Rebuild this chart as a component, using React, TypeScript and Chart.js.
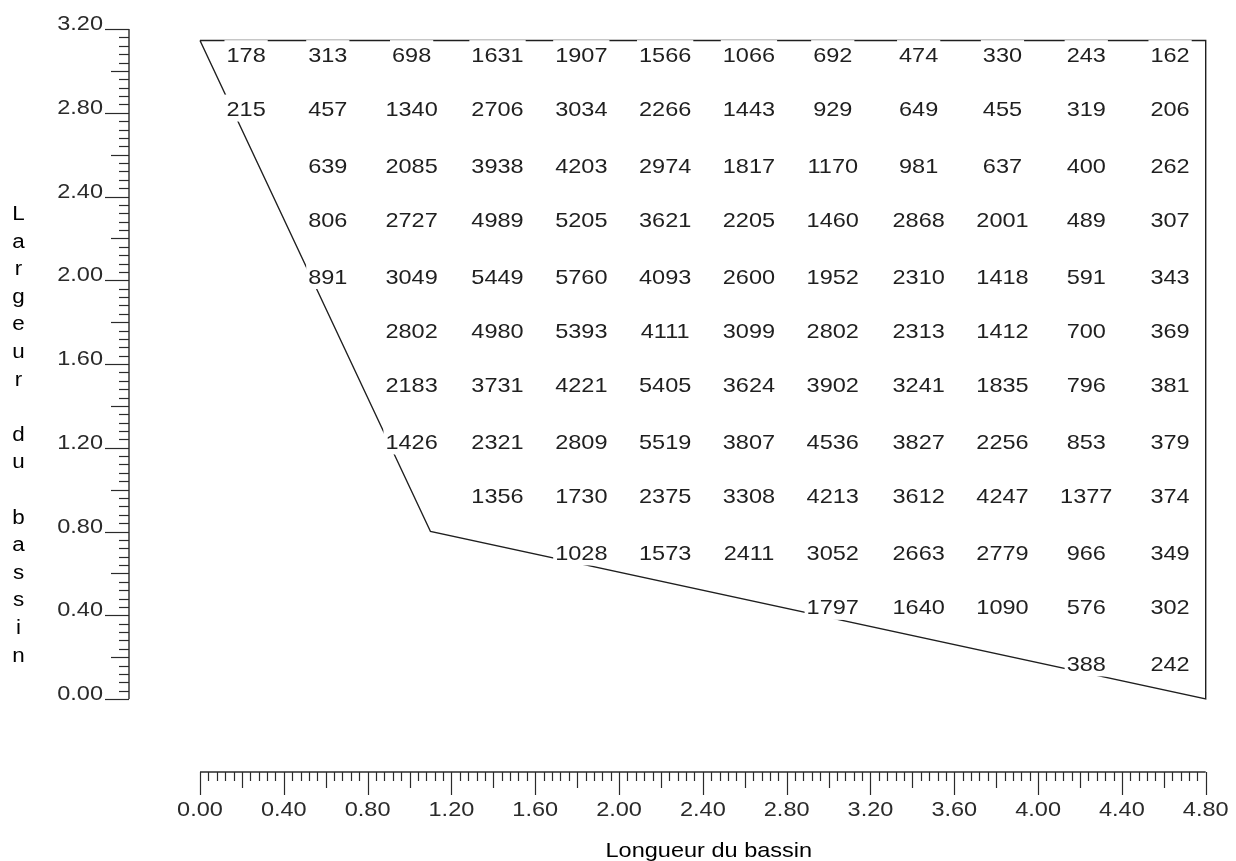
import React, { useEffect, useRef } from "react";
import { Chart, registerables } from "chart.js";

Chart.register(...registerables);

// Basin outline (x = longueur, y = largeur)
const outlineX = [0, 4.8, 4.8, 1.1, 0];
const outlineY = [3.145, 3.145, 0, 0.8, 3.145];

// Grid positions of the value labels
const colX = [0.22, 0.61, 1.01, 1.42, 1.82, 2.22, 2.62, 3.02, 3.43, 3.83, 4.23, 4.63];
const rowY = [3.08, 2.82, 2.55, 2.29, 2.02, 1.76, 1.5, 1.23, 0.97, 0.7, 0.44, 0.17];

// Values per row (top to bottom); null = outside basin
const row1 = [178, 313, 698, 1631, 1907, 1566, 1066, 692, 474, 330, 243, 162];
const row2 = [215, 457, 1340, 2706, 3034, 2266, 1443, 929, 649, 455, 319, 206];
const row3 = [null, 639, 2085, 3938, 4203, 2974, 1817, 1170, 981, 637, 400, 262];
const row4 = [null, 806, 2727, 4989, 5205, 3621, 2205, 1460, 2868, 2001, 489, 307];
const row5 = [null, 891, 3049, 5449, 5760, 4093, 2600, 1952, 2310, 1418, 591, 343];
const row6 = [null, null, 2802, 4980, 5393, 4111, 3099, 2802, 2313, 1412, 700, 369];
const row7 = [null, null, 2183, 3731, 4221, 5405, 3624, 3902, 3241, 1835, 796, 381];
const row8 = [null, null, 1426, 2321, 2809, 5519, 3807, 4536, 3827, 2256, 853, 379];
const row9 = [null, null, null, 1356, 1730, 2375, 3308, 4213, 3612, 4247, 1377, 374];
const row10 = [null, null, null, null, 1028, 1573, 2411, 3052, 2663, 2779, 966, 349];
const row11 = [null, null, null, null, null, null, null, 1797, 1640, 1090, 576, 302];
const row12 = [null, null, null, null, null, null, null, null, null, null, 388, 242];
const rows = [row1, row2, row3, row4, row5, row6, row7, row8, row9, row10, row11, row12];

// Axis ranges and labels
const xMin = 0, xMax = 4.8;
const yMin = 0, yMax = 3.2;
const xTickLabels = ["0.00", "0.40", "0.80", "1.20", "1.60", "2.00", "2.40", "2.80", "3.20", "3.60", "4.00", "4.40", "4.80"];
const yTickLabels = ["0.00", "0.40", "0.80", "1.20", "1.60", "2.00", "2.40", "2.80", "3.20"];
const xTitle = "Longueur du bassin";
const yTitle = "Largeur du bassin";

const FONT = '"Liberation Sans", Arial, Helvetica, sans-serif';
const SX = 1.12;

function sText(ctx: CanvasRenderingContext2D, text: string, x: number, y: number, align: CanvasTextAlign) {
  ctx.save();
  ctx.translate(x, y);
  ctx.scale(SX, 1);
  ctx.textAlign = align;
  ctx.textBaseline = "alphabetic";
  ctx.fillText(text, 0, 0);
  ctx.restore();
}

const basinPlugin = {
  id: "basinPlugin",
  afterDatasetsDraw(chart: any) {
    const ctx: CanvasRenderingContext2D = chart.ctx;
    const xs = chart.scales.x;
    const ys = chart.scales.y;
    const area = chart.chartArea;

    // value labels with white boxes
    ctx.save();
    ctx.font = `21px ${FONT}`;
    rows.forEach((row, r) => {
      row.forEach((v, c) => {
        if (v === null || v === undefined) return;
        const px = xs.getPixelForValue(colX[c]);
        const py = ys.getPixelForValue(rowY[r]);
        const s = String(v);
        const w = ctx.measureText(s).width * SX;
        ctx.fillStyle = "#ffffff";
        ctx.fillRect(px - w / 2 - 2, py - 14, w + 4, 27);
        ctx.fillStyle = "#1f1f1f";
        sText(ctx, s, px, py + 7.5, "center");
      });
    });
    ctx.restore();

    // Y axis (detached left)
    ctx.save();
    const axX = area.left - 71;
    const yTop = ys.getPixelForValue(yMax);
    const yBot = ys.getPixelForValue(yMin);
    ctx.strokeStyle = "#2a2a2a";
    ctx.lineWidth = 1.4;
    ctx.beginPath();
    ctx.moveTo(axX, yTop);
    ctx.lineTo(axX, yBot);
    ctx.stroke();
    ctx.lineWidth = 1.2;
    for (let i = 0; i <= 80; i++) {
      const v = i * 0.04;
      const py = Math.round(ys.getPixelForValue(v)) + 0.5;
      const len = i % 10 === 0 ? 24 : i % 5 === 0 ? 18 : 10;
      ctx.beginPath();
      ctx.moveTo(axX, py);
      ctx.lineTo(axX - len, py);
      ctx.stroke();
    }
    ctx.fillStyle = "#2a2a2a";
    ctx.font = `21px ${FONT}`;
    yTickLabels.forEach((lab) => {
      const py = ys.getPixelForValue(parseFloat(lab));
      sText(ctx, lab, axX - 26, py + 1, "right");
    });
    // Y title, stacked letters
    ctx.fillStyle = "#000";
    ctx.font = `20px ${FONT}`;
    yTitle.split("").forEach((ch, i) => {
      if (ch === " ") return;
      sText(ctx, ch, 18.5, 220 + 27.6 * i, "center");
    });
    ctx.restore();

    // X axis (detached below)
    ctx.save();
    const axY = area.bottom + 73;
    const xL = xs.getPixelForValue(xMin);
    const xR = xs.getPixelForValue(xMax);
    ctx.strokeStyle = "#2a2a2a";
    ctx.lineWidth = 1.4;
    ctx.beginPath();
    ctx.moveTo(xL, axY);
    ctx.lineTo(xR, axY);
    ctx.stroke();
    ctx.lineWidth = 1.2;
    for (let i = 0; i <= 120; i++) {
      const v = i * 0.04;
      const px = Math.round(xs.getPixelForValue(v)) + 0.5;
      const len = i % 10 === 0 ? 23 : i % 5 === 0 ? 16 : 9;
      ctx.beginPath();
      ctx.moveTo(px, axY);
      ctx.lineTo(px, axY + len);
      ctx.stroke();
    }
    ctx.fillStyle = "#2a2a2a";
    ctx.font = `21px ${FONT}`;
    xTickLabels.forEach((lab) => {
      const px = xs.getPixelForValue(parseFloat(lab));
      sText(ctx, lab, px, axY + 44, "center");
    });
    ctx.fillStyle = "#000";
    sText(ctx, xTitle, (xL + xR) / 2 + 6, axY + 85, "center");
    ctx.restore();
  },
};

export default function App() {
  const ref = useRef<HTMLCanvasElement | null>(null);
  useEffect(() => {
    if (!ref.current) return;
    const chart = new Chart(ref.current, {
      type: "scatter",
      data: {
        datasets: [
          {
            data: outlineX.map((x, i) => ({ x, y: outlineY[i] })),
            showLine: true,
            borderColor: "#1f1f1f",
            borderWidth: 1.4,
            pointRadius: 0,
            fill: false,
            tension: 0,
            clip: false as any,
          },
        ],
      },
      options: {
        responsive: false,
        animation: false,
        events: [],
        layout: { padding: { left: 200, right: 30.3, top: 29, bottom: 162 } },
        scales: {
          x: { type: "linear", min: xMin, max: xMax, display: false },
          y: { type: "linear", min: yMin, max: yMax, display: false },
        },
        plugins: { legend: { display: false }, tooltip: { enabled: false } },
      },
      plugins: [basinPlugin],
    });
    return () => chart.destroy();
  }, []);
  return (
    <div style={{ position: "fixed", left: 0, top: 0, width: 1236, height: 861, background: "#fff" }}>
      <canvas ref={ref} width={1236} height={861} style={{ width: 1236, height: 861, display: "block" }} />
    </div>
  );
}
